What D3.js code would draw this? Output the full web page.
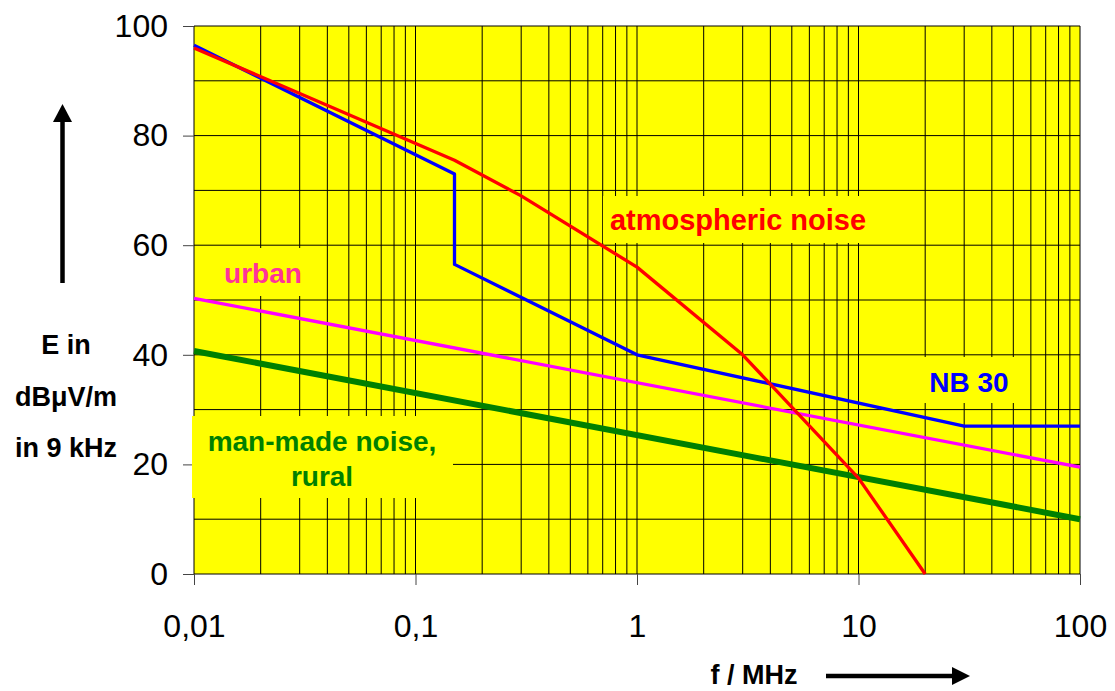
<!DOCTYPE html>
<html>
<head>
<meta charset="utf-8">
<script src="https://cdnjs.cloudflare.com/ajax/libs/d3/7.8.5/d3.min.js"></script>
<style>
  body { margin: 0; background: #fff; }
  text { font-family: "Liberation Sans", Arial, sans-serif; }
</style>
</head>
<body>
<div id="chart"></div>
<script>
// frequency in MHz, field strength in dBuV/m (9 kHz bandwidth)
var xTicks = [0.01, 0.1, 1, 10, 100],
    xTickLabels = ["0,01", "0,1", "1", "10", "100"],
    yTicks = [0, 20, 40, 60, 80, 100];

var atmF = [0.01, 0.15, 0.3, 1, 3, 10, 20],
    atmE = [96, 75.5, 69, 56, 40, 17.5, 0];

var nbF = [0.01, 0.15, 0.15, 1, 30, 100],
    nbE = [96.5, 73, 56.5, 40, 27, 27];

var urbanF = [0.01, 100],
    urbanE = [50.3, 19.5];

var ruralF = [0.01, 100],
    ruralE = [40.7, 10];

var W = 1115, H = 691;

var svg = d3.select("#chart").append("svg").attr("width", W).attr("height", H);

var x = d3.scaleLog().domain([0.01, 100]).range([194, 1080]);
var y = d3.scaleLinear().domain([0, 100]).range([574, 26]);

// plot background
svg.append("rect")
    .attr("x", x(0.01)).attr("y", y(100))
    .attr("width", x(100) - x(0.01)).attr("height", y(0) - y(100))
    .attr("fill", "#ffff00");

// grid
svg.append("g").selectAll("line")
    .data(d3.range(0, 101, 10))
    .enter().append("line")
    .attr("x1", x(0.01)).attr("x2", x(100))
    .attr("y1", function(d) { return y(d); })
    .attr("y2", function(d) { return y(d); })
    .attr("stroke", "#000").attr("stroke-width", 1);

svg.append("g").selectAll("line")
    .data(x.ticks())
    .enter().append("line")
    .attr("x1", function(d) { return x(d); })
    .attr("x2", function(d) { return x(d); })
    .attr("y1", y(100)).attr("y2", y(0))
    .attr("stroke", "#000").attr("stroke-width", 1);

// axes
var yAxis = svg.append("g")
    .attr("transform", "translate(" + x(0.01) + ",0)")
    .call(d3.axisLeft(y).tickValues(yTicks).tickSize(11).tickPadding(15));
var xAxis = svg.append("g")
    .attr("transform", "translate(0," + y(0) + ")")
    .call(d3.axisBottom(x).tickValues(xTicks).tickSize(11).tickPadding(29)
        .tickFormat(function(d, i) { return xTickLabels[i]; }));

[yAxis, xAxis].forEach(function(a) {
    a.select(".domain").remove();
    a.selectAll(".tick line").attr("stroke", "#444");
    a.selectAll(".tick text")
        .attr("fill", "#000")
        .style("font-family", "'Liberation Sans', Arial, sans-serif")
        .style("font-size", "32px");
});

// label boxes (cover grid like the text boxes in the original)
var boxes = [
    [603, 196, 270, 47],
    [212, 248, 103, 48],
    [905, 357, 115, 46],
    [192, 416, 261, 82]
];
svg.append("g").selectAll("rect")
    .data(boxes)
    .enter().append("rect")
    .attr("x", function(d) { return d[0]; })
    .attr("y", function(d) { return d[1]; })
    .attr("width", function(d) { return d[2]; })
    .attr("height", function(d) { return d[3]; })
    .attr("fill", "#ffff00");

// curves
var line = d3.line()
    .x(function(d) { return x(d[0]); })
    .y(function(d) { return y(d[1]); });

function draw(f, e, color, width) {
    svg.append("path")
        .datum(d3.zip(f, e))
        .attr("d", line)
        .attr("fill", "none")
        .attr("stroke", color)
        .attr("stroke-width", width)
        .attr("stroke-linejoin", "round");
}

draw(ruralF, ruralE, "#008000", 6);
draw(urbanF, urbanE, "#ff00ff", 3.3);
draw(nbF, nbE, "#0000ff", 3.3);
draw(atmF, atmE, "#ff0000", 3.3);

// series labels
function label(txt, cx, by, color, size) {
    svg.append("text")
        .attr("x", cx).attr("y", by)
        .attr("text-anchor", "middle")
        .attr("fill", color)
        .attr("font-weight", "bold")
        .attr("font-size", size || 28)
        .text(txt);
}

label("atmospheric noise", 738, 230, "#ff0000", 29);
label("urban", 263, 283, "#ff3399");
label("NB 30", 969, 392, "#0000ff");
label("man-made noise,", 322, 451, "#008000");
label("rural", 322, 486, "#008000");

// axis titles
label("E in", 66, 354, "#000", 27);
label("dB\u03bcV/m", 66, 406, "#000", 27);
label("in 9 kHz", 66, 457, "#000", 27);
label("f / MHz", 754, 684, "#000", 27);

// arrows
svg.append("line")
    .attr("x1", 62.5).attr("x2", 62.5).attr("y1", 283).attr("y2", 118)
    .attr("stroke", "#000").attr("stroke-width", 4.5);
svg.append("path")
    .attr("d", "M53,122 L62.5,104 L72,122 Z")
    .attr("fill", "#000");

svg.append("line")
    .attr("x1", 826).attr("x2", 955).attr("y1", 676).attr("y2", 676)
    .attr("stroke", "#000").attr("stroke-width", 4.5);
svg.append("path")
    .attr("d", "M952,667 L970,676 L952,685 Z")
    .attr("fill", "#000");
</script>
</body>
</html>
